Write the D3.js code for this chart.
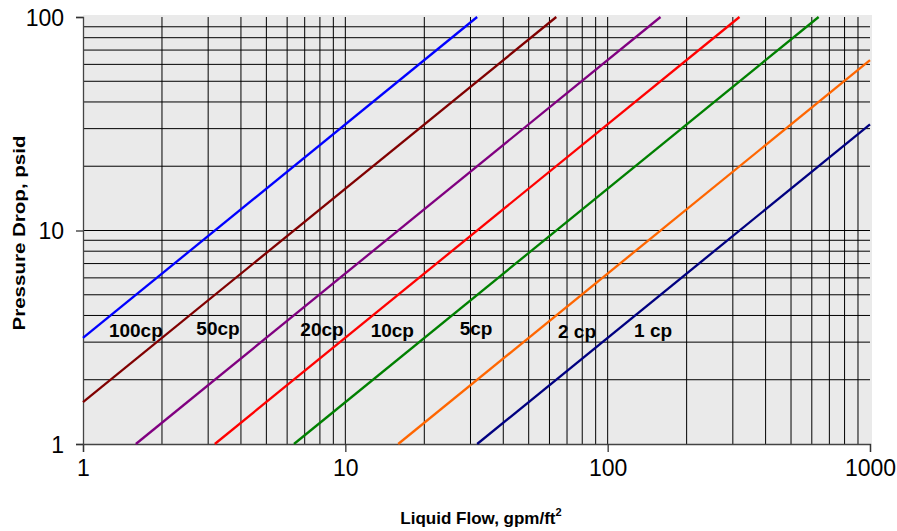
<!DOCTYPE html>
<html>
<head>
<meta charset="utf-8">
<script src="https://cdn.jsdelivr.net/npm/d3@7"></script>
<style>
  html, body { margin: 0; padding: 0; background: #fff; }
  svg { display: block; font-family: "Liberation Sans", Arial, sans-serif; }
</style>
</head>
<body>
<svg id="chart" width="897" height="531"></svg>
<script>
// ---- data ----
const xTickValues = [1, 10, 100, 1000];
const yTickValues = [1, 10, 100];
const viscosityLabels = ["100cp", "50cp", "20cp", "10cp", "5cp", "2 cp", "1 cp"];
const startFlow = [1, 1, 1.59, 3.18, 6.37, 15.9, 31.8];
const startDrop = [3.14, 1.57, 1, 1, 1, 1, 1];
const endFlow = [31.8, 63.7, 159, 318, 637, 1000, 1000];
const endDrop = [100, 100, 100, 100, 100, 62.8, 31.4];
const lineColors = ["#0000ff", "#800000", "#800080", "#ff0000", "#008000", "#ff6600", "#000080"];
const labelFlow = [1.59, 3.27, 8.15, 15.1, 31.5, 76.4, 149];
const labelDrop = [3.17, 3.24, 3.2, 3.17, 3.24, 3.14, 3.17];

// ---- layout ----
const svg = d3.select("#chart");
const pLeft = 83, pRight = 870, pTop = 17, pBottom = 444;
const x = d3.scaleLog().domain([1, 1000]).range([pLeft, pRight]);
const y = d3.scaleLog().domain([1, 100]).range([pBottom, pTop]);

// plot background
svg.append("rect")
  .attr("x", pLeft).attr("y", pTop - 2)
  .attr("width", pRight - pLeft + 2).attr("height", pBottom - pTop + 2)
  .attr("fill", "#eaeaea");

// minor/major gridlines
const xGrid = [];
[1, 10, 100].forEach(d => { for (let k = 2; k <= 10; k++) xGrid.push(d * k); });
const xGridLines = xGrid.filter(v => v < 1000);
const yGrid = [];
[1, 10].forEach(d => { for (let k = 2; k <= 10; k++) yGrid.push(d * k); });
const yGridLines = yGrid.filter(v => v < 100);

svg.append("g").selectAll("line").data(xGridLines).join("line")
  .attr("x1", d => x(d)).attr("x2", d => x(d))
  .attr("y1", pTop).attr("y2", pBottom)
  .attr("stroke", "#000").attr("stroke-width", 1);

svg.append("g").selectAll("line").data(yGridLines).join("line")
  .attr("x1", pLeft).attr("x2", pRight)
  .attr("y1", d => y(d)).attr("y2", d => y(d))
  .attr("stroke", "#000").attr("stroke-width", 1);

// axes
const xAxis = d3.axisBottom(x).tickValues(xTickValues).tickFormat(d3.format("d")).tickSize(8).tickPadding(8);
const yAxis = d3.axisLeft(y).tickValues(yTickValues).tickFormat(d3.format("d")).tickSize(7).tickPadding(12);

const gx = svg.append("g").attr("transform", `translate(0,${pBottom})`).call(xAxis);
const gy = svg.append("g").attr("transform", `translate(${pLeft},0)`).call(yAxis);
[gx, gy].forEach(g => {
  g.select(".domain").attr("stroke", "#444").attr("stroke-width", 1.3);
  g.selectAll(".tick line").attr("stroke", "#333").attr("stroke-width", 1.3);
  g.selectAll(".tick text").attr("font-size", 23).attr("fill", "#000")
    .attr("font-family", "'Liberation Sans', Arial, sans-serif");
});
gx.selectAll(".tick text").attr("dy", "0.71em");
gy.selectAll(".tick text").attr("dy", "0.36em");

// series lines
const lineGen = d3.line().x(d => x(d[0])).y(d => y(d[1]));
const series = viscosityLabels.map((name, i) => ({
  name,
  color: lineColors[i],
  pts: [[startFlow[i], startDrop[i]], [endFlow[i], endDrop[i]]]
}));
svg.append("g").selectAll("path").data(series).join("path")
  .attr("d", d => lineGen(d.pts))
  .attr("fill", "none")
  .attr("stroke", d => d.color)
  .attr("stroke-width", 2.3);

// series labels
svg.append("g").selectAll("text").data(viscosityLabels).join("text")
  .attr("x", (d, i) => x(labelFlow[i]))
  .attr("y", (d, i) => y(labelDrop[i]))
  .attr("text-anchor", "middle")
  .attr("font-size", 19)
  .attr("font-weight", "bold")
  .attr("fill", "#000")
  .text(d => d);

// axis titles
const xt = svg.append("text")
  .attr("x", 481).attr("y", 524)
  .attr("text-anchor", "middle")
  .attr("font-size", 17).attr("font-weight", "bold");
xt.append("tspan").text("Liquid Flow, gpm/ft");
xt.append("tspan").attr("font-size", 11).attr("dy", -8).text("2");

svg.append("text")
  .attr("transform", "translate(25,233) rotate(-90)")
  .attr("text-anchor", "middle")
  .attr("font-size", 17).attr("font-weight", "bold")
  .attr("textLength", 195).attr("lengthAdjust", "spacingAndGlyphs")
  .text("Pressure Drop, psid");
</script>
</body>
</html>
